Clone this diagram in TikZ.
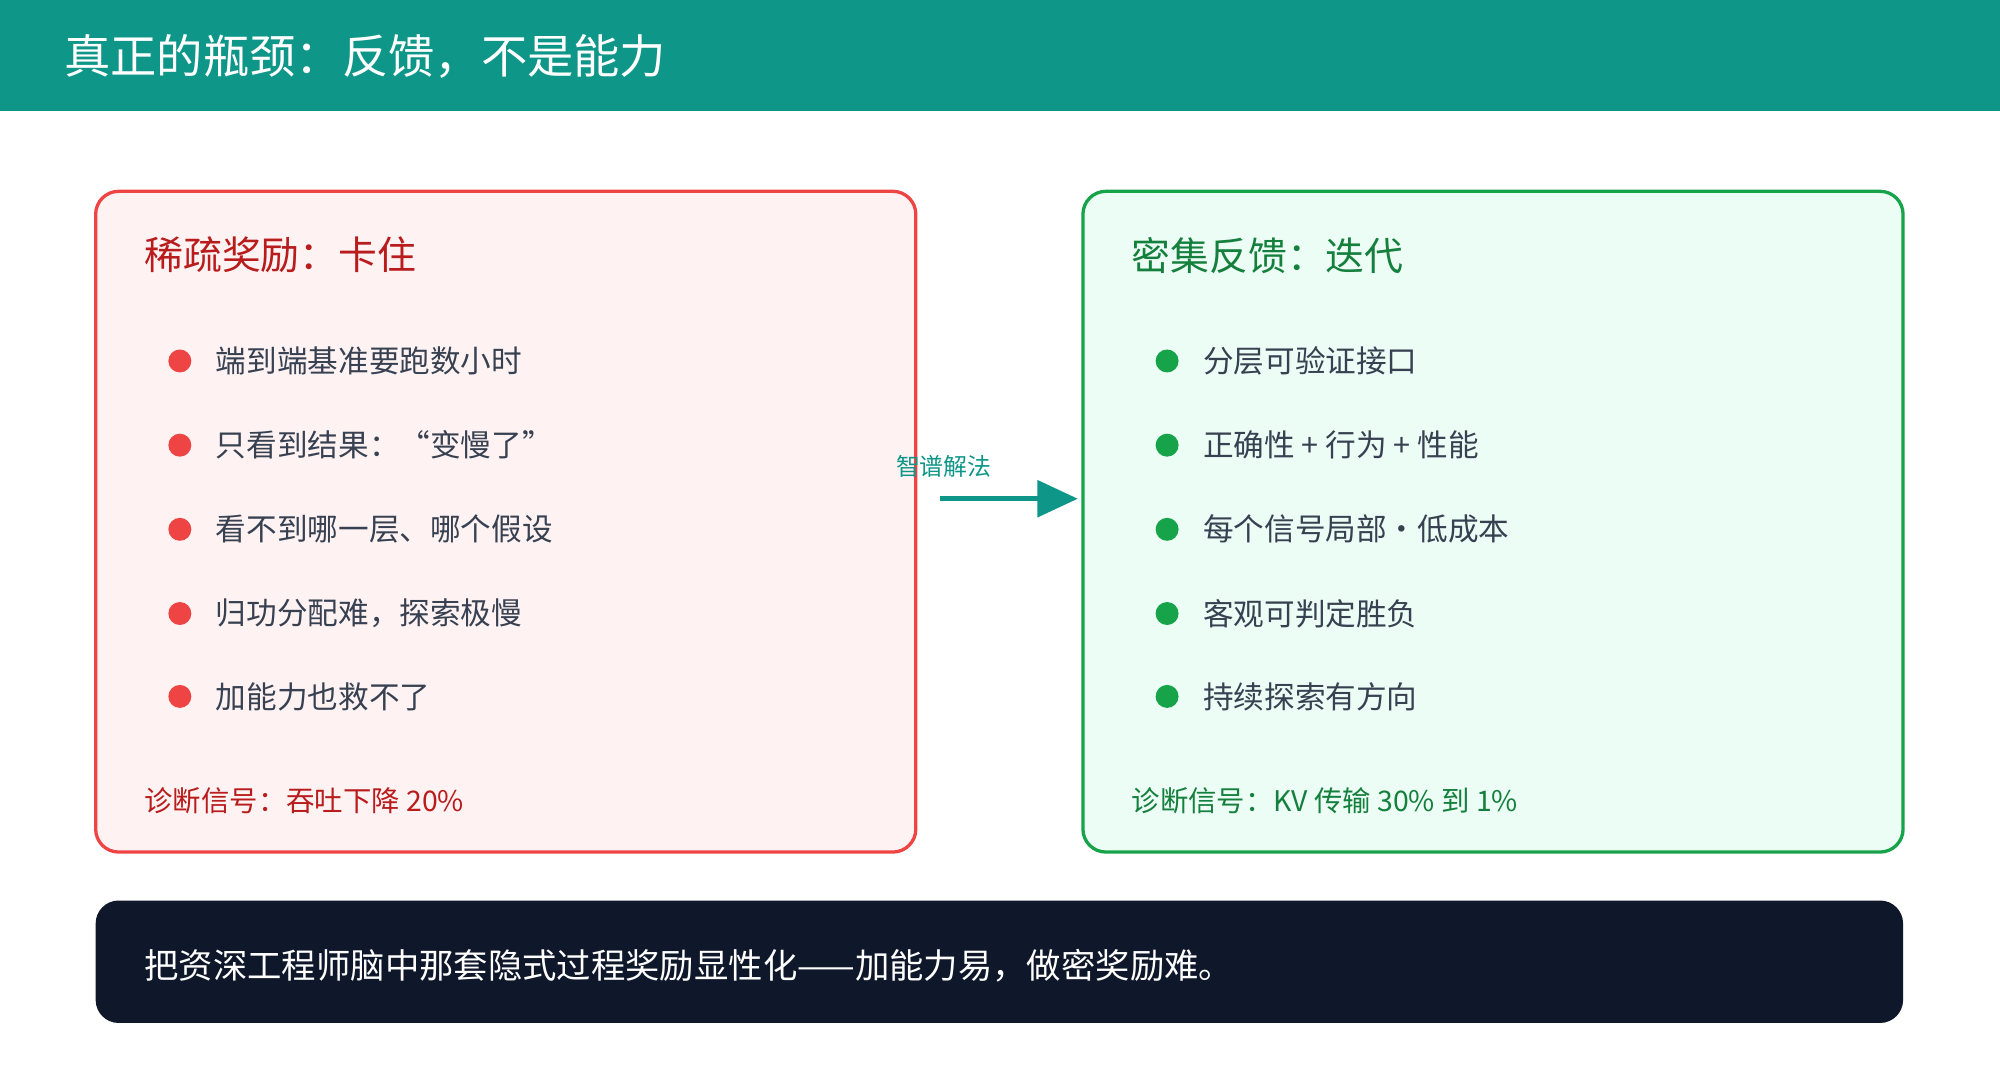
\documentclass[tikz,border=0pt]{standalone}
\usepackage{fontspec}
\setmainfont{Noto Sans CJK SC}
\usetikzlibrary{arrows.meta}
\definecolor{teal}{HTML}{0E9688}
\definecolor{rd}{HTML}{EF4444}
\definecolor{rdfill}{HTML}{FEF2F2}
\definecolor{rdtext}{HTML}{B91C1C}
\definecolor{gn}{HTML}{16A34A}
\definecolor{gnfill}{HTML}{ECFDF5}
\definecolor{gntext}{HTML}{15803D}
\definecolor{body}{HTML}{374151}
\definecolor{navy}{HTML}{0F172A}
\newcommand{\fs}[1]{\fontsize{#1}{#1}\selectfont}
\begin{document}
\begin{tikzpicture}[x=0.03cm,y=-0.03cm,
  card/.style={rounded corners=0.54cm,line width=2.2pt},
  head/.style={anchor=west,inner sep=0,font=\fs{26pt}},
  item/.style={anchor=west,inner sep=0,font=\fs{20.5pt},text=body},
  foot/.style={anchor=west,inner sep=0,font=\fs{19pt}},
  dot/.style={circle,inner sep=0,minimum size=0.54cm}]
\useasboundingbox (0,0) rectangle (1568,847);
\fill[white] (0,0) rectangle (1568,847);
\fill[teal] (0,0) rectangle (1568,87);
\node[anchor=west,inner sep=0,text=white,font=\fs{31pt}] (title) at (50,44) {真正的瓶颈：反馈，不是能力};
% left card
\draw[card,draw=rd,fill=rdfill] (75,150) rectangle (718,668);
\node[head,text=rdtext] (lh) at (113,200) {稀疏奖励：卡住};
\foreach \y/\t [count=\i] in {283/端到端基准要跑数小时,349/只看到结果：“变慢了”,415/看不到哪一层、哪个假设,481/归功分配难，探索极慢,546/加能力也救不了}{
  \node[dot,fill=rd] (ld\i) at (141,\y) {};
  \node[item] (lt\i) at (169,\y) {\t};
}
\node[foot,text=rdtext] (lf) at (113,628) {诊断信号：吞吐下降 20\%};
% right card
\draw[card,draw=gn,fill=gnfill] (849,150) rectangle (1492,668);
\node[head,text=gntext] (rh) at (887,200) {密集反馈：迭代};
\foreach \y/\t [count=\i] in {283/分层可验证接口,349/正确性 + 行为 + 性能,415/每个信号局部·低成本,481/客观可判定胜负,546/持续探索有方向}{
  \node[dot,fill=gn] (rd\i) at (915,\y) {};
  \node[item] (rt\i) at (943,\y) {\t};
}
\node[foot,text=gntext] (rf) at (887,628) {诊断信号：KV 传输 30\% 到 1\%};
% arrow
\coordinate (a) at (737,391);
\coordinate (b) at (845,391);
\draw[teal,line width=3.5pt,-{Triangle[length=0.95cm,width=0.85cm]}] (a) -- (b);
\node[anchor=center,inner sep=0,text=teal,font=\fs{16pt}] (al) at (740,366) {智谱解法};
% bottom bar
\fill[navy,rounded corners=0.54cm] (75,706) rectangle (1492,802);
\node[anchor=west,inner sep=0,text=white,font=\fs{23pt}] (bt) at (113,757) {把资深工程师脑中那套隐式过程奖励显性化——加能力易，做密奖励难。};
\end{tikzpicture}
\end{document}
